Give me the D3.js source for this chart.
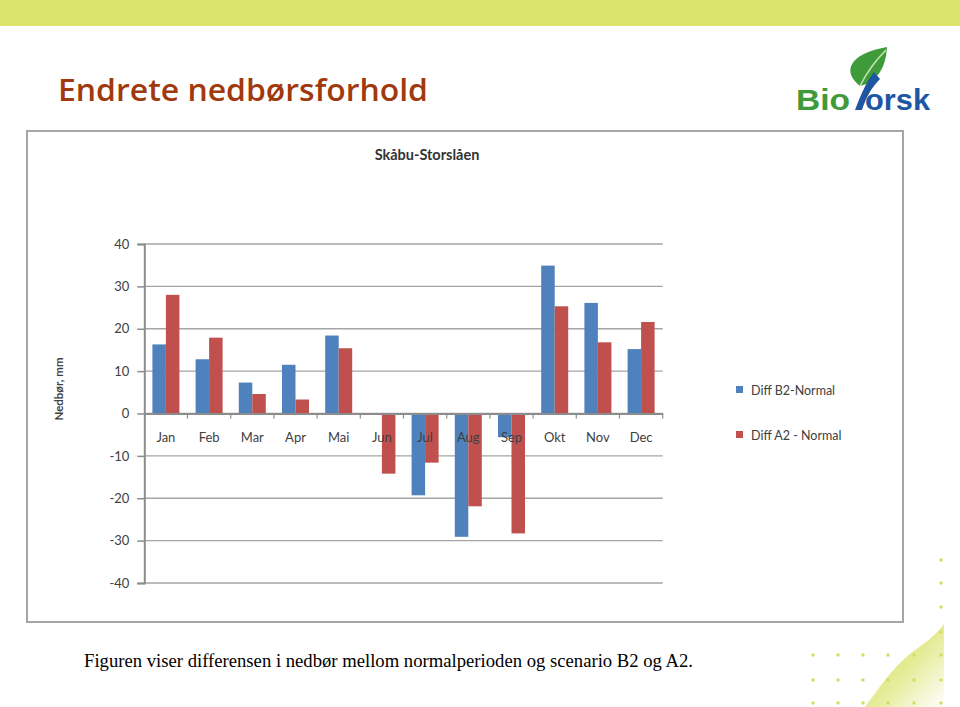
<!DOCTYPE html>
<html>
<head>
<meta charset="utf-8">
<script src="https://cdn.jsdelivr.net/npm/d3@7"></script>
<style>
  body { margin: 0; background: #fff; }
  svg { display: block; }
</style>
</head>
<body>
<div class="graph"></div>
<script>
// data
let months = ["Jan", "Feb", "Mar", "Apr", "Mai", "Jun", "Jul", "Aug", "Sep", "Okt", "Nov", "Dec"];
let diffB2 = [16.3, 12.8, 7.3, 11.5, 18.4, 0, -19.3, -29.1, -5.6, 34.9, 26.1, 15.2];
let diffA2 = [28.0, 17.9, 4.6, 3.3, 15.4, -14.2, -11.6, -21.9, -28.3, 25.3, 16.8, 21.6];
let seriesNames = ["Diff B2-Normal", "Diff A2 - Normal"];
let yTicks = [-40, -30, -20, -10, 0, 10, 20, 30, 40];

let colors = ["#4f81bd", "#c0504d"];
let w = 960;
let h = 707;

let svg = d3
  .select(".graph")
  .append("svg")
  .attr("width", w)
  .attr("height", h);

// slide background bits
svg.append("rect").attr("width", w).attr("height", h).attr("fill", "#fff");
svg.append("rect").attr("width", w).attr("height", 26).attr("fill", "#dbe46b");

svg
  .append("text")
  .attr("x", 58)
  .attr("y", 101)
  .attr("font-family", "Open Sans")
  .attr("font-weight", 600)
  .attr("font-size", 30)
  .attr("textLength", 370)
  .attr("lengthAdjust", "spacingAndGlyphs")
  .attr("fill", "#a03a0e")
  .text("Endrete nedbørsforhold");

// logo
let logo = svg.append("g");
logo
  .append("path")
  .attr("d", "M860,86 C842,72 848,54 887,47 C886,66 878,82 860,86 Z")
  .attr("fill", "#3f9b3a");
logo
  .append("path")
  .attr("d", "M860,86 C866,74 874,62 886,50")
  .attr("stroke", "#c9e6b5")
  .attr("stroke-width", 1.5)
  .attr("fill", "none");
logo
  .append("text")
  .attr("x", 796)
  .attr("y", 110)
  .attr("font-family", "Liberation Sans")
  .attr("font-weight", "bold")
  .attr("font-size", 30)
  .attr("fill", "#3f9b3a")
  .attr("textLength", 54)
  .attr("lengthAdjust", "spacingAndGlyphs")
  .text("Bio");
logo
  .append("path")
  .attr("d", "M874,72 C865,84 860,97 855,110 L862,110 C866,98 871,88 880,79 Z")
  .attr("fill", "#1f56a3");
logo
  .append("text")
  .attr("x", 865)
  .attr("y", 110)
  .attr("font-family", "Liberation Sans")
  .attr("font-weight", "bold")
  .attr("font-size", 30)
  .attr("fill", "#1f56a3")
  .attr("textLength", 65)
  .attr("lengthAdjust", "spacingAndGlyphs")
  .text("orsk");

// bottom right decoration
let defs = svg.append("defs");
let grad = defs
  .append("linearGradient")
  .attr("id", "wave")
  .attr("x1", "0")
  .attr("y1", "0")
  .attr("x2", "1")
  .attr("y2", "1");
grad.append("stop").attr("offset", "0").attr("stop-color", "#d3de45");
grad.append("stop").attr("offset", "0.55").attr("stop-color", "#e6ec9a");
grad.append("stop").attr("offset", "1").attr("stop-color", "#ffffff");
svg
  .append("path")
  .attr("d", "M865,707 C885,680 895,665 915,650 C930,640 938,632 944,624 L944,707 Z")
  .attr("fill", "url(#wave)");

let dotXs = [813, 838, 863, 888, 914, 941];
let dotYs = [655, 680, 703];
dotYs.forEach(function (y) {
  dotXs.forEach(function (x) {
    svg.append("circle").attr("cx", x).attr("cy", y).attr("r", 1.7).attr("fill", "#d3de60");
  });
});
[560, 583, 607, 632].forEach(function (y) {
  svg.append("circle").attr("cx", 941).attr("cy", y).attr("r", 1.7).attr("fill", "#d3de60");
});

// chart frame
svg
  .append("rect")
  .attr("x", 27)
  .attr("y", 131)
  .attr("width", 876)
  .attr("height", 491)
  .attr("fill", "#fff")
  .attr("stroke", "#a6a6a6")
  .attr("stroke-width", 2);

svg
  .append("text")
  .attr("x", 427)
  .attr("y", 160)
  .attr("text-anchor", "middle")
  .attr("font-family", "Lato")
  .attr("font-weight", "bold")
  .attr("font-size", 14.5)
  .attr("fill", "#333")
  .text("Skåbu-Storslåen");

let left = 144.3;
let right = 662.7;

let xScale = d3.scaleBand().domain(months).range([left, right]);
let x1 = d3
  .scaleBand()
  .domain([0, 1])
  .range([0, xScale.bandwidth()])
  .paddingOuter(0.6)
  .paddingInner(0);
let yScale = d3.scaleLinear().domain([-40, 40]).range([583, 244]);

// gridlines
svg
  .append("g")
  .selectAll("line")
  .data(yTicks)
  .enter()
  .append("line")
  .attr("x1", left)
  .attr("x2", right)
  .attr("y1", function (d) { return yScale(d); })
  .attr("y2", function (d) { return yScale(d); })
  .attr("stroke", "#a5a5a5")
  .attr("stroke-width", 1.4);

// bars
let series = [diffB2, diffA2];
series.forEach(function (vals, s) {
  svg
    .append("g")
    .selectAll("rect")
    .data(vals)
    .enter()
    .append("rect")
    .attr("x", function (d, i) { return xScale(months[i]) + x1(s); })
    .attr("width", x1.bandwidth())
    .attr("y", function (d) { return yScale(Math.max(0, d)); })
    .attr("height", function (d) { return Math.abs(yScale(d) - yScale(0)); })
    .attr("fill", colors[s]);
});

// y axis
let yAxis = d3
  .axisLeft(yScale)
  .tickValues(yTicks)
  .tickFormat(function (d) { return String(d); })
  .tickSize(7)
  .tickPadding(8);
let yg = svg.append("g").attr("transform", "translate(" + left + ",0)").call(yAxis);
yg.select(".domain").attr("stroke", "#8c8c8c").attr("stroke-width", 2);
yg.selectAll(".tick line").attr("stroke", "#8c8c8c").attr("stroke-width", 1.5);
yg.selectAll(".tick text")
  .attr("font-family", "Lato")
  .attr("font-size", 13)
  .attr("fill", "#404040");

// x axis at zero
let xAxis = d3.axisBottom(xScale).tickSize(0).tickPadding(19);
let xg = svg.append("g").attr("transform", "translate(0," + yScale(0) + ")").call(xAxis);
xg.select(".domain").attr("stroke", "#8c8c8c").attr("stroke-width", 2);
xg.selectAll(".tick text")
  .attr("font-family", "Lato")
  .attr("font-size", 13)
  .attr("fill", "#404040");
xg.selectAll(".sep")
  .data(months)
  .enter()
  .append("line")
  .attr("x1", function (d) { return xScale(d) + xScale.bandwidth(); })
  .attr("x2", function (d) { return xScale(d) + xScale.bandwidth(); })
  .attr("y1", 0)
  .attr("y2", 5)
  .attr("stroke", "#8c8c8c")
  .attr("stroke-width", 1.2);

// y title
svg
  .append("text")
  .attr("transform", "translate(63,389) rotate(-90)")
  .attr("text-anchor", "middle")
  .attr("font-family", "Lato")
  .attr("font-weight", "bold")
  .attr("font-size", 11.5)
  .attr("fill", "#404040")
  .text("Nedbør, mm");

// legend
let legend = svg
  .append("g")
  .selectAll("g")
  .data(seriesNames)
  .enter()
  .append("g")
  .attr("transform", function (d, i) { return "translate(736," + (386 + i * 45) + ")"; });
legend
  .append("rect")
  .attr("width", 7)
  .attr("height", 7)
  .attr("fill", function (d, i) { return colors[i]; });
legend
  .append("text")
  .attr("x", 15)
  .attr("y", 9)
  .attr("font-family", "Lato")
  .attr("font-size", 12.5)
  .attr("fill", "#404040")
  .text(function (d) { return d; });

// caption
svg
  .append("text")
  .attr("x", 84)
  .attr("y", 667)
  .attr("font-family", "Liberation Serif")
  .attr("font-size", 18)
  .attr("textLength", 609)
  .attr("lengthAdjust", "spacingAndGlyphs")
  .attr("fill", "#000")
  .text("Figuren viser differensen i nedbør mellom normalperioden og scenario B2 og A2.");
</script>
</body>
</html>
